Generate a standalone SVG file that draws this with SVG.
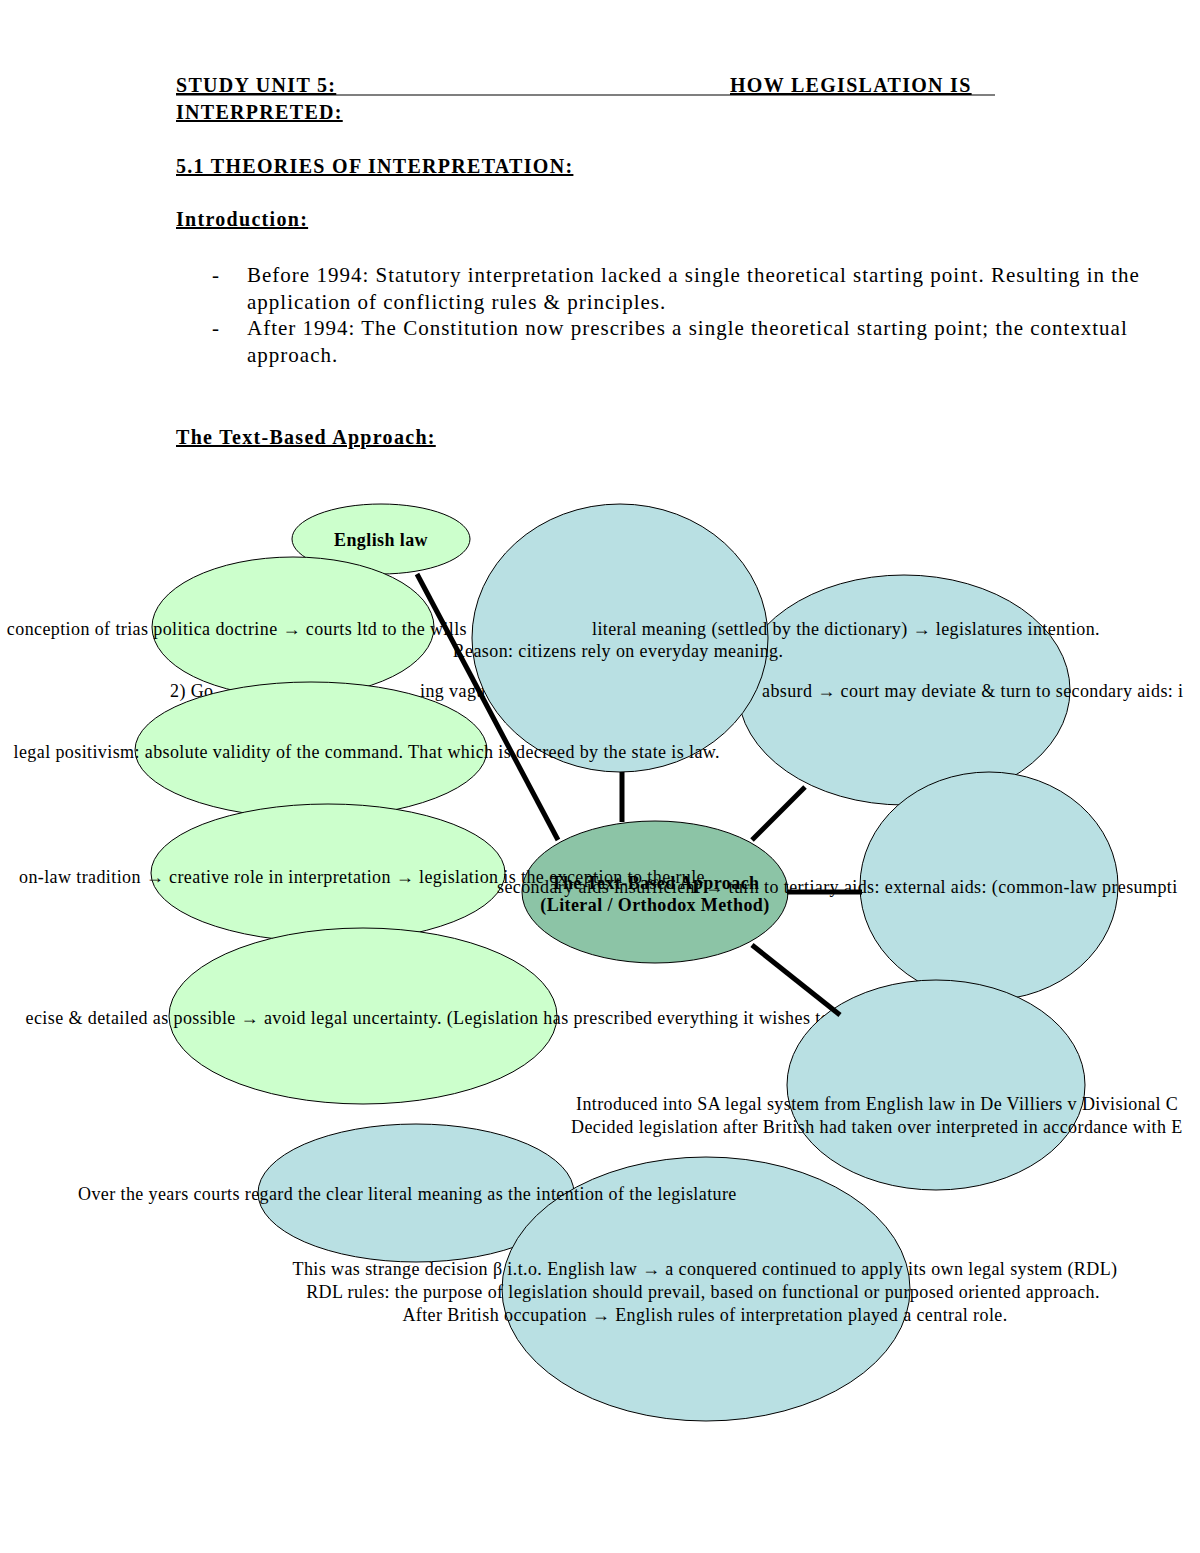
<svg xmlns="http://www.w3.org/2000/svg" width="1200" height="1553" viewBox="0 0 1200 1553">
<style>
text{font-family:"Liberation Serif","Times New Roman",serif;fill:#000}
.h{font-size:20px;font-weight:bold;text-decoration:underline;letter-spacing:1.3px}
.b{font-size:21px;letter-spacing:1px}
.t{font-size:18px;letter-spacing:0.4px}
.c{text-anchor:middle}
.g{fill:#ccffcc;stroke:#000;stroke-width:1}
.bl{fill:#b9e0e3;stroke:#000;stroke-width:1}
.cn{stroke:#000;stroke-width:5;fill:none}
</style>
<rect width="1200" height="1553" fill="#fff"/>
<g id="header">
<text class="h" x="176" y="92">STUDY UNIT 5:</text>
<line x1="176" y1="95" x2="995" y2="95" stroke="#000" stroke-width="1.2"/>
<text class="h" x="730" y="92">HOW LEGISLATION IS</text>
<text class="h" x="176" y="119">INTERPRETED:</text>
<text class="h" x="176" y="173">5.1 THEORIES OF INTERPRETATION:</text>
<text class="h" x="176" y="226">Introduction:</text>
<text class="b" x="212" y="282">-</text>
<text class="b" x="247" y="282">Before 1994: Statutory interpretation lacked a single theoretical starting point. Resulting in the</text>
<text class="b" x="247" y="309">application of conflicting rules &amp; principles.</text>
<text class="b" x="212" y="335">-</text>
<text class="b" x="247" y="335">After 1994: The Constitution now prescribes a single theoretical starting point; the contextual</text>
<text class="b" x="247" y="362">approach.</text>
<text class="h" x="176" y="444">The Text-Based Approach:</text>
</g>
<g id="english-law">
<ellipse class="g" cx="381" cy="539" rx="89" ry="35"/>
<text class="t c" x="381" y="546" font-weight="bold">English law</text>
</g>
<g id="trias-politica">
<ellipse class="g" cx="293" cy="627" rx="141" ry="70"/>
<text class="t" x="600" y="635" text-anchor="end">conception of trias politica doctrine → courts ltd to the wills of the legislature</text>
</g>
<g id="absurd">
<ellipse class="bl" cx="904" cy="690" rx="166" ry="115"/>
<text class="t" x="170" y="697">2) Go</text>
<text class="t" x="420" y="697">ing vague</text>
<text class="t" x="762" y="697">absurd → court may deviate &amp; turn to secondary aids: i</text>
</g>
<g id="positivism">
<ellipse class="g" cx="311" cy="750" rx="176" ry="68"/>
</g>
<g id="literal-meaning">
<ellipse class="bl" cx="620" cy="638" rx="148" ry="134"/>
<text class="t" x="1100" y="635" text-anchor="end">literal meaning (settled by the dictionary) → legislatures intention.</text>
<text class="t c" x="618" y="657">Reason: citizens rely on everyday meaning.</text>
</g>
<text class="t" x="720" y="758" text-anchor="end">legal positivism: absolute validity of the command. That which is decreed by the state is law.</text>
<g id="common-law">
<ellipse class="g" cx="328" cy="873" rx="177" ry="69"/>
</g>
<g id="centre">
<ellipse cx="655" cy="892" rx="133" ry="71" fill="#8cc4a6" stroke="#000" stroke-width="1"/>
<text class="t c" x="655" y="889" font-weight="bold">The Text-Based Approach</text>
<text class="t c" x="655" y="911" font-weight="bold">(Literal / Orthodox Method)</text>
</g>
<text class="t" x="705" y="883" text-anchor="end">on-law tradition → creative role in interpretation → legislation is the exception to the rule</text>
<g id="tertiary-aids">
<ellipse class="bl" cx="989" cy="886" rx="129" ry="114"/>
<text class="t" x="497" y="893">secondary aids insufficient → turn to tertiary aids: external aids: (common-law presumpti</text>
</g>
<g id="precise">
<ellipse class="g" cx="363" cy="1016" rx="194" ry="88"/>
<text class="t" x="830" y="1024" text-anchor="end">ecise &amp; detailed as possible → avoid legal uncertainty. (Legislation has prescribed everything it wishes to</text>
</g>
<g id="de-villiers">
<ellipse class="bl" cx="936" cy="1085" rx="149" ry="105"/>
<text class="t" x="576" y="1110">Introduced into SA legal system from English law in De Villiers v Divisional C</text>
<text class="t" x="571" y="1133">Decided legislation after British had taken over interpreted in accordance with E</text>
</g>
<g id="over-years">
<ellipse class="bl" cx="416" cy="1193" rx="158" ry="69"/>
</g>
<g id="rdl">
<ellipse class="bl" cx="706" cy="1289" rx="204" ry="132"/>
<text class="t c" x="705" y="1275">This was strange decision β i.t.o. English law → a conquered continued to apply its own legal system (RDL)</text>
<text class="t c" x="703" y="1298">RDL rules: the purpose of legislation should prevail, based on functional or purposed oriented approach.</text>
<text class="t c" x="705" y="1321">After British occupation → English rules of interpretation played a central role.</text>
</g>
<text class="t" x="78" y="1200">Over the years courts regard the clear literal meaning as the intention of the legislature</text>
<g id="connectors">
<line class="cn" x1="417" y1="574" x2="558" y2="840"/>
<line class="cn" x1="622" y1="772" x2="622" y2="822"/>
<line class="cn" x1="805" y1="787" x2="752" y2="840"/>
<line class="cn" x1="787" y1="892" x2="862" y2="892"/>
<line class="cn" x1="752" y1="945" x2="840" y2="1015"/>
</g>
</svg>
